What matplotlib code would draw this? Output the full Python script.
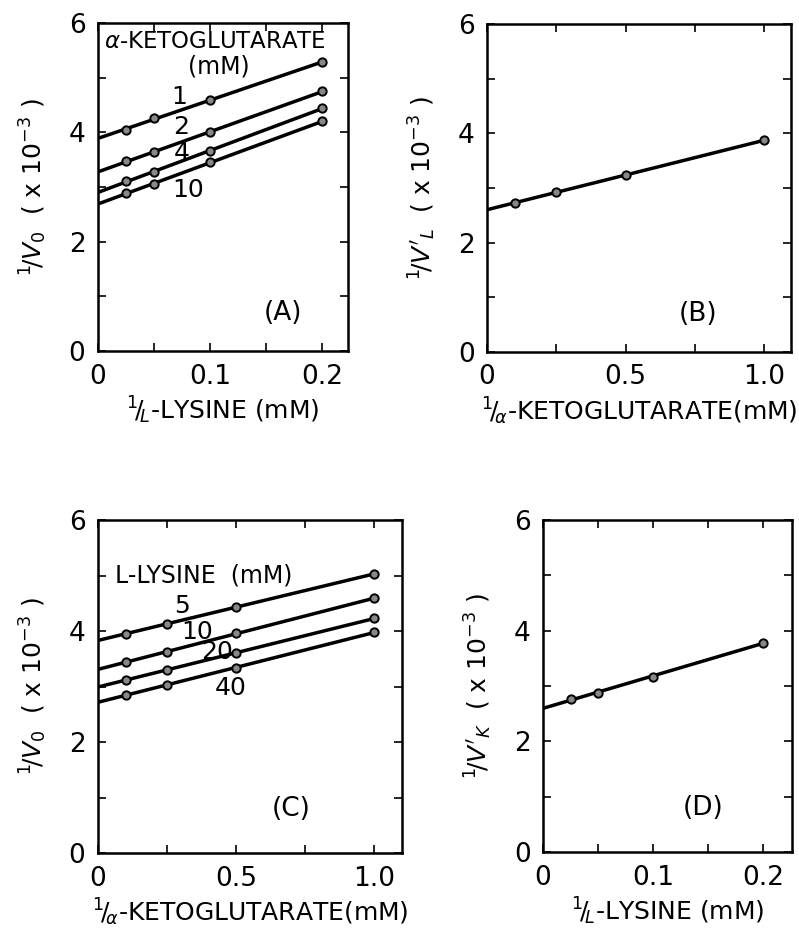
import numpy as np
import matplotlib
matplotlib.use('Agg')
import matplotlib.pyplot as plt

plt.rcParams['font.family'] = ['DejaVu Sans']
plt.rcParams['mathtext.fontset'] = 'dejavusans'

# Data
#(A) 1/v0 vs 1/L-lysine at fixed alpha-ketoglutarate
x_lys = [0.025, 0.05, 0.1, 0.2]
akg_conc = ['1', '2', '4', '10']
a_y1 = [4.04, 4.26, 4.60, 5.28]
a_y2 = [3.47, 3.64, 4.00, 4.75]
a_y4 = [3.11, 3.27, 3.66, 4.44]
a_y10 = [2.89, 3.05, 3.45, 4.20]

#(B) replot
x_akg = [0.1, 0.25, 0.5, 1.0]
b_y = [2.72, 2.93, 3.24, 3.87]

#(C) 1/v0 vs 1/alpha-KG at fixed L-lysine
lys_conc = ['5', '10', '20', '40']
c_y5 = [3.95, 4.13, 4.43, 5.03]
c_y10 = [3.44, 3.62, 3.96, 4.59]
c_y20 = [3.12, 3.30, 3.60, 4.23]
c_y40 = [2.85, 3.03, 3.33, 3.98]

#(D) replot
d_y = [2.76, 2.88, 3.17, 3.78]

W, H = 799, 930
fig = plt.figure(figsize=(W/100, H/100), dpi=100)

def box(l, t, r, b):
    return [l/W, 1-b/H, (r-l)/W, (b-t)/H]

def fitline(ax, x, y):
    # straight line from x=0 to last point
    m, c = np.polyfit(x, y, 1)
    xx = np.array([0, max(x)])
    ax.plot(xx, m*xx + c, color='black', lw=2.5, zorder=2)
    ax.plot(x, y, 'o', ms=6, mfc='#888888', mec='black', mew=1.4, zorder=3)

def style(ax, xmax, xstep, xlabels, xlabel, ylabel):
    ax.set_xlim(0, xmax)
    ax.set_ylim(0, 6)
    ax.set_xticks(np.arange(0, xmax, xstep))
    ax.set_xticklabels([xlabels.get(round(v, 3), '') for v in np.arange(0, xmax, xstep)])
    ax.set_yticks(range(7))
    ax.set_yticklabels(['0', '', '2', '', '4', '', '6'])
    ax.tick_params(direction='in', length=6, width=1.2, top=True, right=True,
                   labelsize=19, pad=9)
    for s in ax.spines.values():
        s.set_linewidth(1.8)
    ax.set_xlabel(xlabel, fontsize=18, labelpad=4)
    ax.set_ylabel(ylabel, fontsize=18, labelpad=14)

ylab_v0 = r'$^1\!/V_0$  ( x 10$^{-3}$ )'
xlab_lys = r'$^1\!/_{\!L}$-LYSINE (mM)'
xlab_akg = r'$^1\!/_{\!\alpha}$-KETOGLUTARATE(mM)'

# Panel A
axA = fig.add_axes(box(98, 23, 348, 351))
for ys in [a_y1, a_y2, a_y4, a_y10]:
    fitline(axA, x_lys, ys)
style(axA, 0.223, 0.05, {0.0: '0', 0.1: '0.1', 0.2: '0.2'}, xlab_lys, ylab_v0)
axA.text(0.005, 5.67, r'$\alpha$-KETOGLUTARATE', fontsize=16.5, va='center')
axA.text(0.108, 5.2, '(mM)', fontsize=17, ha='center', va='center')
for lab, (tx, ty) in zip(akg_conc, [(0.072, 4.65), (0.074, 4.1), (0.075, 3.62), (0.08, 2.95)]):
    axA.text(tx, ty, lab, fontsize=18, ha='center', va='center')
axA.text(0.165, 0.7, '(A)', fontsize=19, ha='center', va='center')

# Panel B
axB = fig.add_axes(box(487, 24, 791, 352))
fitline(axB, x_akg, b_y)
style(axB, 1.097, 0.25, {0.0: '0', 0.5: '0.5', 1.0: '1.0'}, xlab_akg,
      r"$^1\!/V'_L$  ( x 10$^{-3}$ )")
axB.text(0.76, 0.7, '(B)', fontsize=19, ha='center', va='center')

# Panel C
axC = fig.add_axes(box(98, 520, 402, 853))
for ys in [c_y5, c_y10, c_y20, c_y40]:
    fitline(axC, x_akg, ys)
style(axC, 1.10, 0.25, {0.0: '0', 0.5: '0.5', 1.0: '1.0'}, xlab_akg, ylab_v0)
axC.text(0.06, 5.0, 'L-LYSINE  (mM)', fontsize=17, va='center')
for lab, (tx, ty) in zip(lys_conc, [(0.305, 4.45), (0.36, 3.98), (0.43, 3.62), (0.48, 2.97)]):
    axC.text(tx, ty, lab, fontsize=18, ha='center', va='center')
axC.text(0.7, 0.8, '(C)', fontsize=19, ha='center', va='center')

# Panel D
axD = fig.add_axes(box(543, 520, 792, 852))
fitline(axD, x_lys, d_y)
style(axD, 0.226, 0.05, {0.0: '0', 0.1: '0.1', 0.2: '0.2'}, xlab_lys,
      r"$^1\!/V'_K$  ( x 10$^{-3}$ )")
axD.text(0.145, 0.8, '(D)', fontsize=19, ha='center', va='center')

fig.savefig('out.png', dpi=100)
